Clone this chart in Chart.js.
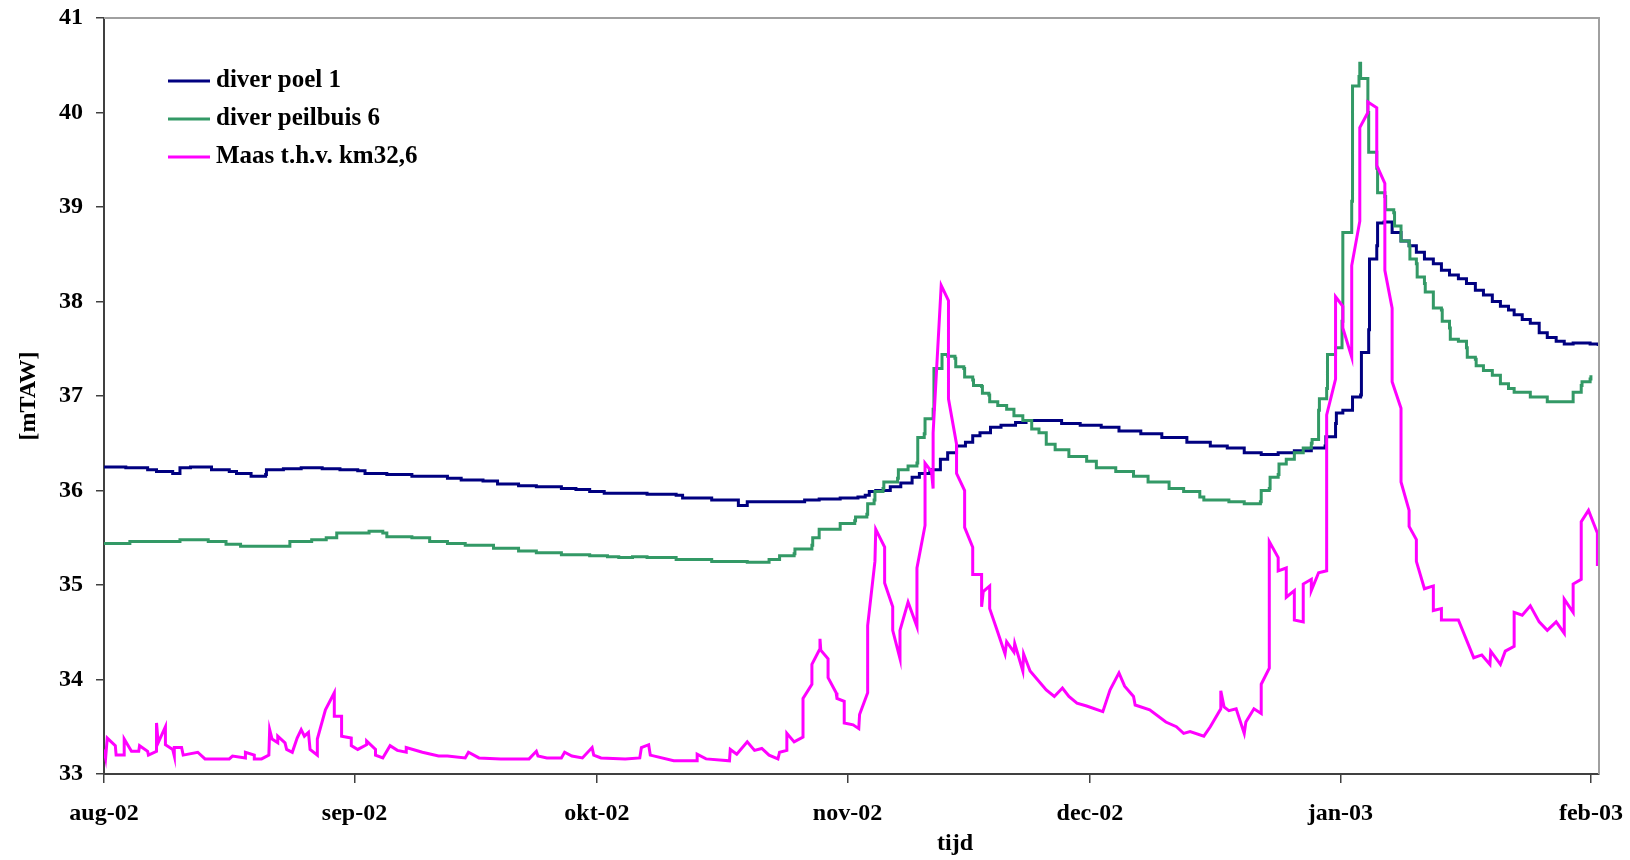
<!DOCTYPE html>
<html>
<head>
<meta charset="utf-8">
<script src="https://cdn.jsdelivr.net/npm/chart.js@4/dist/chart.umd.min.js"></script>
<style>
  body { margin: 0; background: #fff; }
  canvas { display: block; }
</style>
</head>
<body>
<canvas id="grafiek" width="1630" height="860"></canvas>
<script>
// x = dagen sinds 1 aug 2002
const maandDagen = [0, 31, 61, 92, 122, 153, 184];
const maandLabels = ['aug-02', 'sep-02', 'okt-02', 'nov-02', 'dec-02', 'jan-03', 'feb-03'];
const peilTicks = [33, 34, 35, 36, 37, 38, 39, 40, 41];

// diver poel 1
const poelDagen = [
  0, 2.7, 4.1, 5.4, 6.5, 8.5, 9.4, 10.7, 12.5, 13.3,
  15.5, 16.4, 18.2, 20, 20.1, 22.2, 24.4, 27, 29.2, 31.4,
  32.3, 35, 38.1, 42.5, 44.2, 46.9, 48.7, 51.3, 53.5, 56.6,
  58.4, 60.1, 61.9, 64.5, 67.2, 70.8, 71.6, 75.2, 78.3, 78.5,
  79.6, 84, 86.7, 88.5, 91.1, 93.3, 94.2, 94.7, 95.5, 97.3,
  98.6, 100, 100.9, 102.2, 103.5, 104.4, 105.5, 106.6, 107.5, 108.4,
  109.7, 111, 112.8, 114.1, 117.2, 118.5, 120.8, 123.4, 125.6, 128.3,
  130.9, 134, 136.9, 139, 141.1, 143.2, 145.3, 147.3, 149.4, 151.1,
  151.2, 152.4, 152.5, 153.3, 154.5, 155.5, 155.6, 156.5, 156.6, 157.5,
  157.6, 158.4, 159.4, 160.5, 161.5, 162.4, 163.4, 164.5, 165.5, 166.5,
  167.6, 168.6, 169.7, 170.7, 171.8, 172.8, 173.8, 174.5, 175.5, 176.5,
  177.6, 178.6, 179.7, 180.7, 181.8, 183.9, 184.9
];
const poelPeil = [
  36.25, 36.24, 36.24, 36.22, 36.20, 36.18, 36.24, 36.25, 36.25, 36.22,
  36.20, 36.18, 36.15, 36.17, 36.22, 36.23, 36.24, 36.23, 36.22, 36.21,
  36.18, 36.17, 36.15, 36.13, 36.11, 36.10, 36.07, 36.05, 36.04, 36.02,
  36.01, 35.99, 35.97, 35.97, 35.96, 35.95, 35.92, 35.90, 35.90, 35.84,
  35.88, 35.88, 35.90, 35.91, 35.92, 35.93, 35.95, 35.99, 36.00, 36.04,
  36.08, 36.14, 36.18, 36.22, 36.33, 36.40, 36.47, 36.51, 36.58, 36.61,
  36.67, 36.69, 36.72, 36.74, 36.74, 36.71, 36.69, 36.67, 36.63, 36.60,
  36.56, 36.51, 36.47, 36.45, 36.40, 36.38, 36.40, 36.42, 36.45, 36.47,
  36.57, 36.71, 36.82, 36.85, 36.99, 37.01, 37.46, 37.70, 38.45, 38.59,
  38.83, 38.84, 38.73, 38.64, 38.59, 38.52, 38.45, 38.40, 38.33, 38.28,
  38.24, 38.19, 38.12, 38.07, 38.00, 37.95, 37.91, 37.86, 37.81, 37.77,
  37.67, 37.62, 37.58, 37.55, 37.56, 37.55, 37.53
];

// diver peilbuis 6
const buisDagen = [
  0, 2.7, 3.2, 7.2, 9.4, 12.9, 15.1, 16.9, 20.4, 23,
  25.7, 27.5, 28.8, 32.8, 34.5, 35, 38.1, 40.3, 42.5, 44.7,
  48.2, 51.3, 53.5, 56.6, 60.1, 62.3, 63.7, 65.4, 67.2, 70.8,
  75.2, 79.6, 82.3, 83.6, 85.4, 85.5, 87.6, 87.7, 88.5, 91.1,
  92.9, 93, 94.4, 94.5, 95.3, 95.4, 96.4, 96.5, 98.2, 98.3,
  99.5, 100.6, 100.7, 101.5, 101.6, 102.6, 102.7, 103.7, 104.4, 105.3,
  105.4, 106.4, 106.5, 107.5, 107.6, 108.6, 108.7, 109.5, 109.6, 110.6,
  111.7, 112.6, 113.7, 114.8, 115.7, 116.6, 117.7, 119.4, 121.6, 122.8,
  125.2, 127.4, 129.2, 131.8, 133.6, 135.6, 136.1, 139.2, 141.1, 143.1,
  143.2, 144.2, 144.3, 145.3, 145.4, 146.3, 147.3, 148.4, 149.4, 149.5,
  150.3, 150.4, 151.3, 151.4, 152.4, 153.2, 153.3, 154.4, 154.5, 155.3,
  155.4, 155.5, 156.4, 156.5, 157.5, 157.6, 158.5, 158.6, 159.6, 159.7,
  160.5, 161.5, 161.6, 162.4, 162.5, 163.4, 163.5, 164.5, 165.5, 165.6,
  166.5, 166.6, 167.6, 168.6, 168.7, 169.7, 169.8, 170.7, 171.8, 172.8,
  173.8, 174.5, 176.5, 177.6, 178.6, 180.7, 181.8, 182.8, 182.9, 183.9,
  184
];
const buisPeil = [
  35.44, 35.44, 35.46, 35.46, 35.48, 35.46, 35.43, 35.41, 35.41, 35.46,
  35.48, 35.50, 35.55, 35.57, 35.55, 35.51, 35.50, 35.46, 35.44, 35.42,
  35.39, 35.36, 35.34, 35.32, 35.31, 35.30, 35.29, 35.30, 35.29, 35.27,
  35.25, 35.24, 35.27, 35.31, 35.33, 35.38, 35.42, 35.50, 35.59, 35.65,
  35.68, 35.72, 35.75, 35.86, 35.90, 35.99, 36.02, 36.09, 36.13, 36.22,
  36.26, 36.29, 36.56, 36.60, 36.76, 36.86, 37.29, 37.44, 37.42, 37.40,
  37.31, 37.29, 37.20, 37.17, 37.11, 37.10, 37.03, 37.01, 36.94, 36.90,
  36.86, 36.79, 36.74, 36.65, 36.61, 36.49, 36.43, 36.36, 36.31, 36.24,
  36.20, 36.15, 36.09, 36.02, 35.99, 35.93, 35.90, 35.88, 35.86, 35.88,
  36.00, 36.02, 36.14, 36.17, 36.28, 36.33, 36.40, 36.45, 36.50, 36.54,
  36.85, 36.97, 37.08, 37.44, 37.51, 37.79, 38.73, 39.06, 40.28, 40.38,
  40.52, 40.36, 40.00, 39.58, 39.41, 39.15, 39.11, 38.97, 38.94, 38.80,
  38.64, 38.59, 38.45, 38.40, 38.26, 38.19, 38.10, 37.93, 37.91, 37.79,
  37.72, 37.60, 37.58, 37.51, 37.41, 37.39, 37.32, 37.27, 37.22, 37.13,
  37.08, 37.04, 36.99, 36.99, 36.94, 36.94, 37.04, 37.11, 37.15, 37.18,
  37.22
];

// Maas t.h.v. km32,6
const maasDagen = [
  0, 0.2, 0.4, 1.4, 1.5, 2.5, 2.5, 3.4, 4.3, 4.4,
  5.4, 5.5, 6.5, 6.5, 6.7, 7.6, 7.6, 8.5, 8.7, 8.7,
  9.6, 9.8, 11.6, 12.5, 15.5, 15.9, 17.5, 17.5, 18.6, 18.6,
  19.5, 20.4, 20.5, 20.8, 21.5, 21.5, 22.4, 22.6, 23.3, 23.9,
  24.4, 24.8, 25.3, 25.5, 26.4, 26.4, 27.4, 28.5, 28.5, 29.4,
  29.4, 30.6, 30.6, 31.4, 32.5, 32.5, 33.6, 33.6, 34.5, 35.4,
  36.3, 37.4, 37.4, 39.4, 41.4, 42.5, 44.7, 45.1, 46.4, 49.1,
  52.6, 53.5, 53.7, 54.8, 56.6, 57, 57.9, 59.2, 60.4, 60.6,
  61.5, 64.5, 66.3, 66.5, 67.4, 67.6, 70.5, 73.4, 73.4, 74.5,
  77.4, 77.5, 78.3, 79.6, 80.5, 81.4, 82.3, 83.4, 83.6, 84.5,
  84.5, 85.4, 86.5, 86.5, 87.6, 87.6, 88.5, 88.6, 88.7, 89.6,
  89.6, 90.6, 90.7, 91.6, 91.6, 92.7, 93.4, 93.5, 94.5, 94.5,
  95.4, 95.5, 96.6, 96.6, 97.6, 97.6, 98.5, 98.5, 99.5, 100.6,
  100.6, 101.6, 101.6, 102.4, 102.6, 102.6, 103.6, 104.5, 104.5, 105.5,
  105.5, 106.5, 106.5, 107.5, 107.5, 108.6, 108.6, 108.8, 109.6, 109.6,
  110.6, 111.5, 111.7, 112.6, 112.7, 113.7, 113.8, 114.6, 116.6, 117.6,
  118.6, 119.4, 120.4, 121.6, 123.6, 124.5, 125.6, 126.3, 127.4, 127.6,
  129.4, 131.4, 132.7, 133.6, 134.4, 136.1, 136.9, 138.2, 138.2, 138.6,
  139.2, 140.1, 141.1, 141.3, 142.3, 143.2, 143.2, 144.2, 144.2, 145.3,
  145.3, 146.3, 146.3, 147.3, 147.3, 148.4, 148.4, 149.4, 149.4, 150.3,
  151.3, 151.3, 152.4, 152.4, 153.3, 153.3, 154.4, 154.4, 155.4, 155.4,
  156.4, 156.4, 157.5, 157.5, 158.5, 158.5, 159.4, 159.4, 160.5, 160.5,
  161.5, 161.5, 162.4, 162.4, 163.4, 164.5, 164.5, 165.5, 165.5, 167.6,
  168.6, 169.5, 170.5, 171.5, 171.6, 172.8, 173.4, 174.5, 174.5, 175.5,
  176.5, 177.6, 178.6, 179.7, 180.7, 180.7, 181.8, 181.8, 182.8, 182.8,
  183.7, 184.8, 184.8
];
const maasPeil = [
  33.26, 33.17, 33.38, 33.30, 33.20, 33.20, 33.37, 33.24, 33.24, 33.30,
  33.24, 33.20, 33.24, 33.54, 33.33, 33.50, 33.31, 33.26, 33.19, 33.28,
  33.28, 33.20, 33.23, 33.16, 33.16, 33.19, 33.17, 33.23, 33.20, 33.16,
  33.16, 33.20, 33.47, 33.37, 33.33, 33.40, 33.33, 33.26, 33.23, 33.38,
  33.47, 33.40, 33.44, 33.26, 33.20, 33.37, 33.68, 33.86, 33.61, 33.61,
  33.40, 33.38, 33.30, 33.26, 33.31, 33.35, 33.26, 33.20, 33.17, 33.30,
  33.25, 33.23, 33.28, 33.23, 33.19, 33.19, 33.17, 33.23, 33.17, 33.16,
  33.16, 33.24, 33.19, 33.17, 33.17, 33.23, 33.19, 33.17, 33.28, 33.20,
  33.17, 33.16, 33.17, 33.28, 33.31, 33.20, 33.14, 33.14, 33.21, 33.16,
  33.14, 33.26, 33.21, 33.34, 33.25, 33.27, 33.20, 33.16, 33.23, 33.25,
  33.43, 33.34, 33.39, 33.80, 33.95, 34.16, 34.31, 34.43, 34.31, 34.22,
  34.02, 33.86, 33.80, 33.77, 33.54, 33.52, 33.48, 33.63, 33.86, 34.57,
  35.25, 35.59, 35.40, 35.02, 34.77, 34.52, 34.22, 34.52, 34.82, 34.56,
  35.18, 35.63, 36.29, 36.20, 36.02, 36.61, 38.17, 38.01, 36.97, 36.49,
  36.18, 36.00, 35.61, 35.40, 35.11, 35.11, 34.77, 34.93, 34.99, 34.75,
  34.50, 34.27, 34.40, 34.29, 34.38, 34.09, 34.27, 34.09, 33.89, 33.82,
  33.91, 33.82, 33.75, 33.72, 33.66, 33.89, 34.07, 33.93, 33.82, 33.73,
  33.68, 33.55, 33.50, 33.43, 33.45, 33.40, 33.50, 33.69, 33.88, 33.71,
  33.67, 33.69, 33.43, 33.55, 33.69, 33.64, 33.95, 34.12, 35.46, 35.29,
  35.15, 35.18, 34.87, 34.94, 34.63, 34.61, 35.01, 35.06, 34.94, 35.13,
  35.15, 36.80, 37.18, 38.05, 37.95, 37.72, 37.41, 38.38, 38.85, 39.84,
  40.00, 40.11, 40.05, 39.44, 39.25, 38.33, 37.93, 37.15, 36.87, 36.09,
  35.79, 35.62, 35.48, 35.25, 34.96, 34.99, 34.73, 34.75, 34.63, 34.63,
  34.42, 34.23, 34.26, 34.16, 34.30, 34.16, 34.30, 34.35, 34.71, 34.68,
  34.78, 34.61, 34.52, 34.61, 34.49, 34.85, 34.71, 35.01, 35.06, 35.67,
  35.79, 35.55, 35.20
];

const punten = (dagen, peil) => dagen.map((d, i) => ({ x: d, y: peil[i] }));

const lettertype = { family: 'Liberation Serif', weight: 'bold', size: 24 };

// rand boven/rechts, legende in de grafiek en asnaam "tijd"
const extraTekening = {
  id: 'extraTekening',
  afterDraw(chart) {
    const ctx = chart.ctx;
    const ca = chart.chartArea;
    ctx.save();
    ctx.strokeStyle = '#a0a0a0';
    ctx.lineWidth = 2;
    ctx.beginPath();
    ctx.moveTo(ca.left, ca.top);
    ctx.lineTo(ca.right, ca.top);
    ctx.lineTo(ca.right, ca.bottom);
    ctx.stroke();

    ctx.font = 'bold 25px "Liberation Serif"';
    ctx.fillStyle = '#000';
    ctx.textBaseline = 'middle';
    chart.data.datasets.forEach((ds, i) => {
      const y = 81 + i * 38;
      ctx.strokeStyle = ds.borderColor;
      ctx.lineWidth = 3;
      ctx.beginPath();
      ctx.moveTo(168, y);
      ctx.lineTo(210, y);
      ctx.stroke();
      ctx.fillText(ds.label, 216, y);
    });

    ctx.font = 'bold 24px "Liberation Serif"';
    ctx.textAlign = 'center';
    ctx.fillText('tijd', 955, 844);
    ctx.restore();
  }
};

const config = {
  type: 'line',
  data: {
    datasets: [
      {
        label: 'diver poel 1',
        data: punten(poelDagen, poelPeil),
        borderColor: '#000080',
        borderWidth: 3,
        pointRadius: 0,
        stepped: true,
        order: 3
      },
      {
        label: 'diver peilbuis 6',
        data: punten(buisDagen, buisPeil),
        borderColor: '#339966',
        borderWidth: 3,
        pointRadius: 0,
        stepped: true,
        order: 2
      },
      {
        label: 'Maas t.h.v. km32,6',
        data: punten(maasDagen, maasPeil),
        borderColor: '#ff00ff',
        borderWidth: 3,
        pointRadius: 0,
        order: 1
      }
    ]
  },
  options: {
    responsive: false,
    animation: false,
    layout: { padding: { top: 18, right: 31, left: 0, bottom: 0 } },
    plugins: {
      legend: { display: false },
      tooltip: { enabled: false }
    },
    scales: {
      x: {
        type: 'linear',
        min: 0,
        max: 185,
        afterBuildTicks: s => { s.ticks = maandDagen.map(v => ({ value: v })); },
        afterFit: s => {
          s.height = 86;
          s.paddingLeft = 0;
          s.paddingRight = 0;
        },
        ticks: {
          autoSkip: false,
          maxRotation: 0,
          padding: 16,
          color: '#000',
          font: lettertype,
          callback: v => maandLabels[maandDagen.indexOf(v)]
        },
        grid: { drawOnChartArea: false, tickLength: 9, color: '#404040', lineWidth: 1.5 },
        border: { color: '#404040', width: 2 }
      },
      y: {
        min: 33,
        max: 41,
        afterBuildTicks: s => { s.ticks = peilTicks.map(v => ({ value: v })); },
        afterFit: s => {
          s.width = 104;
          s.paddingTop = 0;
          s.paddingBottom = 0;
        },
        ticks: { padding: 13, color: '#000', font: lettertype },
        grid: { drawOnChartArea: false, tickLength: 8, color: '#404040', lineWidth: 1.5 },
        border: { color: '#404040', width: 2 },
        title: {
          display: true,
          text: '[mTAW]',
          color: '#000',
          font: lettertype,
          padding: { top: 14, bottom: 0 }
        }
      }
    }
  },
  plugins: [extraTekening]
};

const grafiek = new Chart(document.getElementById('grafiek'), config);
</script>
</body>
</html>
